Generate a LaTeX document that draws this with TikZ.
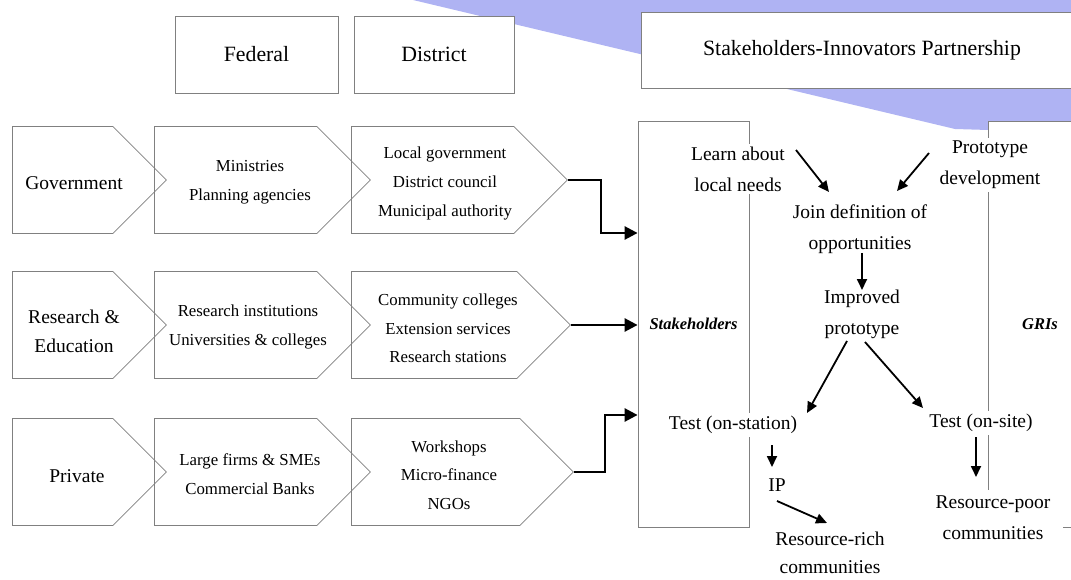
\documentclass[tikz,border=0pt]{standalone}
\usepackage{fontspec}
\setmainfont{Liberation Serif}
\usetikzlibrary{shapes.symbols,arrows.meta}
\definecolor{bandblue}{RGB}{175,179,243}

\begin{document}
\begin{tikzpicture}[x=1pt,y=-1pt,
    chev/.style={signal,signal to=east,signal pointer angle=90,draw=gray,line width=0.8pt,
      inner sep=0pt,minimum height=107pt,anchor=west},
    head/.style={draw=gray,line width=0.8pt,fill=white,font=\fontsize{21.8}{26}\selectfont},
    group/.style={align=center,font=\fontsize{19.5}{29}\selectfont},
    item/.style={align=center,font=\fontsize{16.8}{28.7}\selectfont},
    flowtxt/.style={align=center,fill=white,inner sep=3pt,font=\fontsize{19.5}{31}\selectfont},
    side/.style={draw=gray,line width=0.8pt,fill=white,minimum height=406pt,
      font=\fontsize{16.5}{20}\selectfont\bfseries\itshape},
    flow/.style={line width=1.8pt,-{Triangle[length=11pt,width=10pt]}},
    link/.style={line width=2.6pt,-{Triangle[length=13pt,width=13pt]}}]
    \clip (0,0) rectangle (1071,580);
    % Blue band
    \fill[bandblue] (413,0) -- (1080,0) -- (1080,130) -- (988,130) -- (955,129) -- cycle;
    % Headers
    \node[head,minimum width=163pt,minimum height=77pt] (fed) at (256.5,54.5) {Federal};
    \node[head,minimum width=160pt,minimum height=77pt] (dist) at (434,54.5) {District};
    \node[head,minimum width=442pt,minimum height=76pt] (sip) at (862,50) {Stakeholders-Innovators Partnership};
    % Government row
    \node[chev,minimum width=154pt] (gov) at (12,180) {};
    \node[chev,minimum width=216pt] (govfed) at (154,180) {};
    \node[chev,minimum width=216pt] (govdist) at (351,180) {};
    \node[group] at (74,183) {Government};
    \node[item] at (250,182.5) {Ministries\\Planning agencies};
    \node[item] at (445,183.5) {Local government\\District council\\Municipal authority};
    % Research row
    \node[chev,minimum width=154pt] (edu) at (12,325) {};
    \node[chev,minimum width=216pt] (edufed) at (154,325) {};
    \node[chev,minimum width=219pt] (edudist) at (351,325) {};
    \node[group] at (74,331.5) {Research \&\\Education};
    \node[item] at (248,327) {Research institutions\\Universities \& colleges};
    \node[item] at (448,328.5) {Community colleges\\Extension services\\Research stations};
    % Private row
    \node[chev,minimum width=154pt] (priv) at (12,472) {};
    \node[chev,minimum width=216pt] (privfed) at (154,472) {};
    \node[chev,minimum width=222pt] (privdist) at (351,472) {};
    \node[group] at (77,476) {Private};
    \node[item] at (250,474.5) {Large firms \& SMEs\\Commercial Banks};
    \node[item] at (449,475) {Workshops\\Micro-finance\\NGOs};
    % Partnership columns
    \node[side,minimum width=111pt] (stk) at (693.5,324) {Stakeholders};
    \node[side,minimum width=104pt] (gri) at (1040,324) {GRIs};
    \draw[link] (govdist.east) -- ++(33,0) |- ([shift={(0,-91)}]stk.west);
    \draw[link] (edudist.east) -- (stk.west |- edudist.east);
    \draw[link] (privdist.east) -- ++(31,0) |- ([shift={(0,91)}]stk.west);
    % Flow
    \node[flowtxt] (learn) at (738,169) {Learn about\\local needs};
    \node[flowtxt] (proto) at (990,165) {Prototype\\development};
    \node[flowtxt] (join) at (860,229) {Join definition of\\opportunities};
    \node[flowtxt] (impr) at (862,314) {Improved\\prototype};
    \node[flowtxt] (tstat) at (733,425) {Test (on-station)};
    \node[flowtxt] (tsite) at (981,423) {Test (on-site)};
    \node[flowtxt] (ip) at (777,485) {IP};
    \node[flowtxt,font=\fontsize{19.5}{28}\selectfont] (rich) at (830,553) {Resource-rich\\communities};
    \node[flowtxt,inner xsep=13pt,inner ysep=6pt] (poor) at (993,518) {Resource-poor\\communities};
    \draw[flow] ([shift={(58,-19)}]learn.center) -- ([shift={(-31,-37)}]join.center);
    \draw[flow] ([shift={(-61,-12)}]proto.center) -- ([shift={(37,-38)}]join.center);
    \draw[flow] ([shift={(2,24)}]join.center) -- ([shift={(0,-24)}]impr.center);
    \draw[flow] ([shift={(-15,27)}]impr.center) -- ([shift={(74,-12)}]tstat.center);
    \draw[flow] ([shift={(3,28)}]impr.center) -- ([shift={(-58,-15)}]tsite.center);
    \draw[flow] ([shift={(39,20)}]tstat.center) -- ([shift={(-5,-18)}]ip.center);
    \draw[flow] ([shift={(0,16)}]ip.center) -- ([shift={(-3,-30)}]rich.center);
    \draw[flow] ([shift={(-5,14)}]tsite.center) -- ([shift={(-17,-41)}]poor.center);
\end{tikzpicture}
\end{document}
